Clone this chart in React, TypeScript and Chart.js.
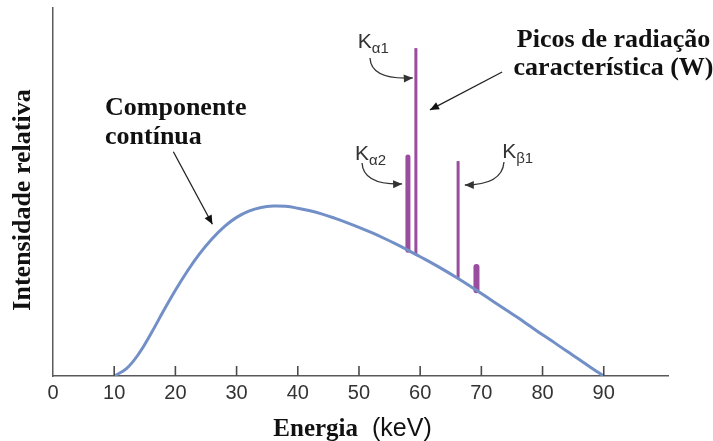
import React, { useEffect, useRef } from 'react';
import { Chart, registerables } from 'chart.js';

Chart.register(...registerables);

// ---- data ----
const energies = [10, 12, 14, 16, 18, 20, 22, 24, 26, 28, 30, 32, 34, 36, 38, 40, 42, 44, 46, 48, 50, 52, 54, 56, 58, 60, 62, 64, 66, 68, 70, 72, 74, 76, 78, 80, 82, 84, 86, 88, 90];
const continuum = [0, 2.0, 6.0, 11.5, 17.5, 23.3, 28.6, 33.3, 37.3, 40.6, 43.1, 44.8, 45.8, 46.2, 46.1, 45.6, 44.9, 44.0, 42.9, 41.7, 40.4, 39.0, 37.5, 35.9, 34.2, 32.4, 30.6, 28.7, 26.7, 24.6, 22.4, 20.2, 18.0, 15.8, 13.5, 11.2, 9.0, 6.7, 4.5, 2.2, 0];
const peakNames = ['Kα2', 'Kα1', 'Kβ1', 'Kβ2'];
const peakEnergy = [58.0, 59.3, 66.2, 69.2];
const peakBase = [34.2, 33.0, 26.5, 23.3];
const peakTop = [59.5, 89.1, 58.4, 29.6];
const xTickValues = [0, 10, 20, 30, 40, 50, 60, 70, 80, 90];

const SERIF = '"Liberation Serif", "Times New Roman", serif';
const SANS = '"Liberation Sans", Arial, sans-serif';

function arrowHead(ctx: CanvasRenderingContext2D, fx: number, fy: number, tx: number, ty: number, len = 9, half = 4) {
  const a = Math.atan2(ty - fy, tx - fx);
  ctx.beginPath();
  ctx.moveTo(tx, ty);
  ctx.lineTo(tx - len * Math.cos(a) + half * Math.sin(a), ty - len * Math.sin(a) - half * Math.cos(a));
  ctx.lineTo(tx - len * Math.cos(a) - half * Math.sin(a), ty - len * Math.sin(a) + half * Math.cos(a));
  ctx.closePath();
  ctx.fill();
}

const annotations = {
  id: 'annotations',
  afterDraw(chart: any) {
    const { ctx, scales, chartArea } = chart;
    const X = (v: number) => scales.x.getPixelForValue(v);
    const Y = (v: number) => scales.y.getPixelForValue(v);
    ctx.save();

    // inward tick marks on the x axis
    ctx.strokeStyle = '#4a4a4a';
    ctx.lineWidth = 1.6;
    const axisY = scales.x.top;
    for (const v of xTickValues) {
      if (v <= 0) continue;
      const px = X(v);
      ctx.beginPath();
      ctx.moveTo(px, axisY);
      ctx.lineTo(px, axisY - 10);
      ctx.stroke();
    }

    ctx.fillStyle = '#111';
    ctx.strokeStyle = '#222';
    ctx.lineWidth = 1.3;

    // y axis title
    ctx.save();
    ctx.font = `bold 26px ${SERIF}`;
    ctx.textAlign = 'center';
    ctx.textBaseline = 'middle';
    ctx.translate(23, (chartArea.top + chartArea.bottom) / 2 + 8);
    ctx.rotate(-Math.PI / 2);
    ctx.fillText('Intensidade relativa', 0, 0);
    ctx.restore();

    // Componente contínua
    ctx.font = `bold 26px ${SERIF}`;
    ctx.textAlign = 'left';
    ctx.textBaseline = 'alphabetic';
    ctx.fillText('Componente', X(8.5), Y(70.9));
    ctx.fillText('contínua', X(8.5), Y(63.0));
    ctx.beginPath();
    ctx.moveTo(X(19.67), Y(60.95));
    ctx.lineTo(X(26.05), Y(41.22));
    ctx.stroke();
    arrowHead(ctx, X(19.67), Y(60.95), X(26.05), Y(41.22));

    // Picos de radiação característica (W)
    ctx.textAlign = 'center';
    ctx.fillText('Picos de radiação', X(91.6), Y(89.5));
    ctx.fillText('característica (W)', X(91.6), Y(81.8));
    ctx.beginPath();
    ctx.moveTo(X(73.4), Y(82.6));
    ctx.lineTo(X(61.6), Y(72.3));
    ctx.stroke();
    arrowHead(ctx, X(73.4), Y(82.6), X(61.6), Y(72.3));

    // K labels with subscripts
    const kLabel = (sub: string, xv: number, yv: number) => {
      ctx.textAlign = 'left';
      ctx.fillStyle = '#333';
      ctx.font = `21px ${SANS}`;
      const px = X(xv), py = Y(yv);
      ctx.fillText('K', px, py);
      const w = ctx.measureText('K').width;
      ctx.font = `15px ${SANS}`;
      ctx.fillText(sub, px + w, py + 5);
    };
    kLabel('α1', 49.8, 89.1);
    kLabel('α2', 49.36, 58.7);
    kLabel('β1', 73.4, 59.3);

    const curved = (s: number[], c: number[], e: number[]) => {
      ctx.strokeStyle = '#333';
      ctx.fillStyle = '#333';
      ctx.beginPath();
      ctx.moveTo(X(s[0]), Y(s[1]));
      ctx.quadraticCurveTo(X(c[0]), Y(c[1]), X(e[0]), Y(e[1]));
      ctx.stroke();
      arrowHead(ctx, X(c[0]), Y(c[1]), X(e[0]), Y(e[1]), 9, 4);
    };
    curved([51.8, 86.4], [52.0, 80.4], [58.8, 81.0]);
    curved([50.5, 57.9], [50.7, 51.9], [57.05, 52.2]);
    curved([73.7, 58.15], [73.4, 51.9], [67.3, 51.9]);

    // x axis title
    ctx.fillStyle = '#111';
    ctx.textAlign = 'left';
    ctx.font = `bold 25px ${SERIF}`;
    const tx = X(36.0);
    const ty = 436;
    ctx.fillText('Energia', tx, ty);
    const ew = ctx.measureText('Energia').width;
    ctx.font = `25px ${SANS}`;
    ctx.fillText('(keV)', tx + ew + 14, ty);
    ctx.restore();
  },
};

export default function App() {
  const ref = useRef<HTMLCanvasElement | null>(null);
  useEffect(() => {
    document.body.style.margin = '0';
    if (!ref.current) return;
    const peakWidths = [5, 3, 3, 6];
    const peakColor = '#9a4c9e';
    const datasets: any[] = [
      {
        label: 'Componente contínua',
        data: energies.map((e, i) => ({ x: e, y: continuum[i] })),
        borderColor: '#7290c7',
        borderWidth: 3,
        pointRadius: 0,
        showLine: true,
        tension: 0.4,
      },
      ...peakNames.map((n, i) => ({
        label: n,
        data: [
          { x: peakEnergy[i], y: peakBase[i] },
          { x: peakEnergy[i], y: peakTop[i] },
        ],
        borderColor: peakColor,
        borderWidth: peakWidths[i],
        borderCapStyle: peakWidths[i] >= 5 ? 'round' : 'butt',
        pointRadius: 0,
        showLine: true,
      })),
    ];
    const chart = new Chart(ref.current, {
      type: 'scatter',
      data: { datasets },
      options: {
        animation: false,
        responsive: true,
        maintainAspectRatio: false,
        layout: { padding: { top: 8, right: 45, left: 0, bottom: 0 } },
        plugins: { legend: { display: false }, tooltip: { enabled: false } },
        scales: {
          x: {
            type: 'linear',
            min: 0,
            max: 100.5,
            afterBuildTicks: (s: any) => {
              s.ticks = xTickValues.map((v) => ({ value: v }));
            },
            ticks: {
              autoSkip: false,
              maxRotation: 0,
              padding: 5,
              color: '#333',
              font: { family: SANS, size: 20 },
              callback: (v: any) => String(v),
            },
            grid: { display: false, drawTicks: false },
            border: { color: '#5a5a5a', width: 1.5 },
            afterFit: (s: any) => {
              s.height = 65;
            },
          },
          y: {
            min: 0,
            max: 100,
            ticks: { display: false },
            grid: { display: false },
            border: { color: '#5a5a5a', width: 1.5 },
            afterFit: (s: any) => {
              s.width = 53;
            },
          },
        },
      } as any,
      plugins: [annotations],
    });
    return () => chart.destroy();
  }, []);
  return (
    <div style={{ width: 713, height: 441, position: 'relative' }}>
      <canvas ref={ref} />
    </div>
  );
}
